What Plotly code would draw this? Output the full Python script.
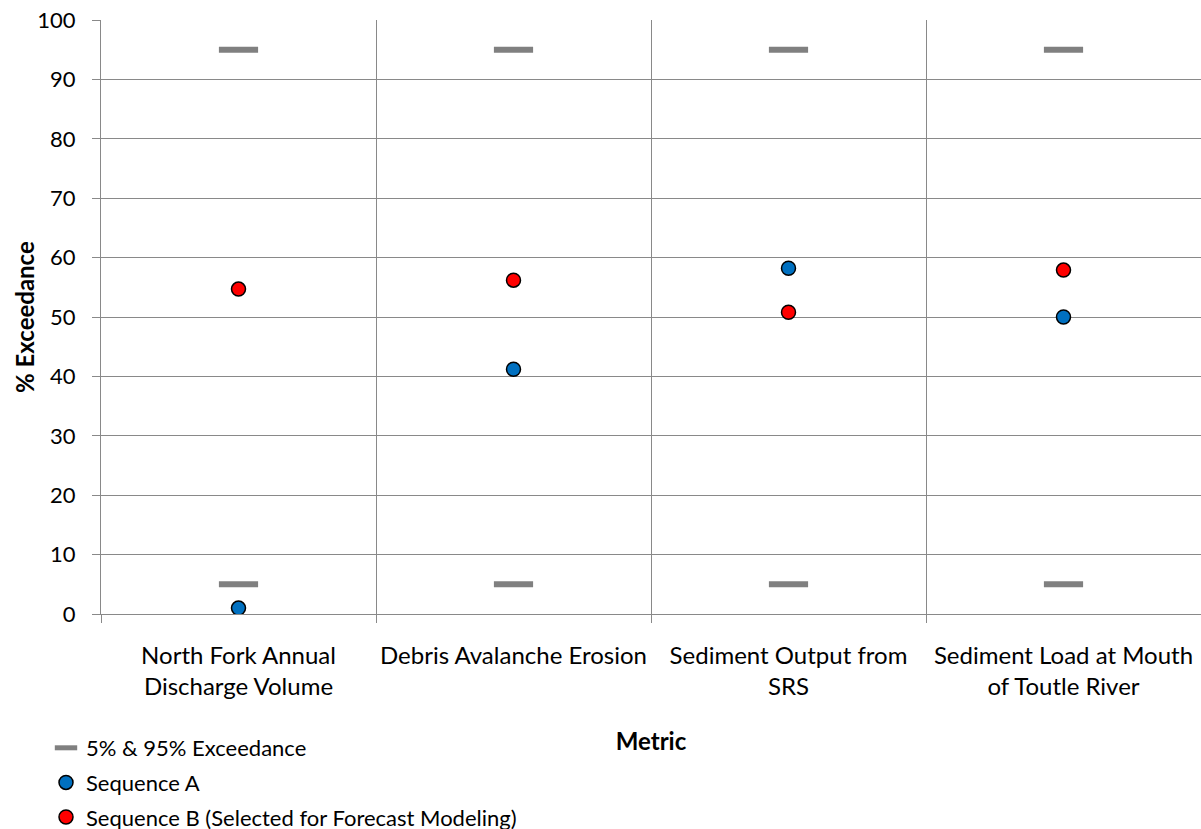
import plotly.graph_objects as go

# Metrics on the category axis
categories = [
    "North Fork Annual<br>Discharge Volume",
    "Debris Avalanche Erosion",
    "Sediment Output from<br>SRS",
    "Sediment Load at Mouth<br>of Toutle River",
]

# % exceedance values
bound_low = [5, 5, 5, 5]
bound_high = [95, 95, 95, 95]
sequence_a = [1.0, 41.2, 58.2, 50.0]
sequence_b = [54.7, 56.2, 50.8, 57.9]

FONT = "Lato"
GRID = "#898989"
W, H = 1201, 829
ML, MR, MT, MB = 101, 0, 20, 215

fig = go.Figure()

fig.add_trace(go.Scatter(
    x=categories + categories,
    y=bound_low + bound_high,
    mode="markers",
    name="5% & 95% Exceedance",
    legendgroup="bounds",
    marker=dict(symbol="line-ew", size=28, color="#808080",
                line=dict(color="#808080", width=6)),
))
fig.add_trace(go.Scatter(
    x=categories, y=sequence_a, mode="markers", name="Sequence A",
    legendgroup="a",
    marker=dict(symbol="circle", size=14, color="#0070C0",
                line=dict(color="#000000", width=1.5)),
))
fig.add_trace(go.Scatter(
    x=categories, y=sequence_b, mode="markers",
    name="Sequence B (Selected for Forecast Modeling)",
    legendgroup="b",
    marker=dict(symbol="circle", size=14, color="#FF0000",
                line=dict(color="#000000", width=1.5)),
))

# vertical y-axis title, placed left of the tick labels
plot_w = W - ML - MR
fig.add_annotation(
    text="<b>% Exceedance</b>",
    xref="paper", yref="paper",
    x=(24 - ML) / plot_w, y=0.5,
    xanchor="center", yanchor="middle",
    textangle=-90, showarrow=False,
    font=dict(family=FONT, size=24, color="#000000"),
)

fig.update_layout(
    width=W, height=H,
    margin=dict(l=ML, r=MR, t=MT, b=MB, autoexpand=False),
    paper_bgcolor="white", plot_bgcolor="white",
    font=dict(family=FONT, size=22, color="#000000"),
    hovermode=False,
    legend=dict(
        orientation="v",
        xref="container", yref="container",
        x=46 / W, y=1 - 727 / H, xanchor="left", yanchor="top",
        font=dict(family=FONT, size=22, color="#000000"),
        tracegroupgap=3, itemwidth=30,
        bgcolor="rgba(0,0,0,0)",
    ),
    xaxis=dict(
        type="category",
        categoryorder="array", categoryarray=categories,
        range=[-0.5, 3.5],
        tickson="boundaries",
        tickangle=0, automargin=True,
        showgrid=True, gridcolor=GRID, gridwidth=1,
        showline=True, linecolor=GRID, linewidth=1,
        ticks="outside", ticklen=8, tickcolor=GRID,
        ticklabelstandoff=20,
        tickfont=dict(family=FONT, size=24),
        title=dict(text="<b>Metric</b>", font=dict(family=FONT, size=24),
                   standoff=34),
        zeroline=False,
    ),
    yaxis=dict(
        range=[0, 100], dtick=10, tick0=0,
        automargin=True,
        showgrid=True, gridcolor=GRID, gridwidth=1,
        showline=True, linecolor=GRID, linewidth=1,
        ticks="outside", ticklen=8, tickcolor=GRID,
        ticklabelstandoff=12,
        tickfont=dict(family=FONT, size=22),
        zeroline=False,
    ),
)

fig.write_html("out.html")
